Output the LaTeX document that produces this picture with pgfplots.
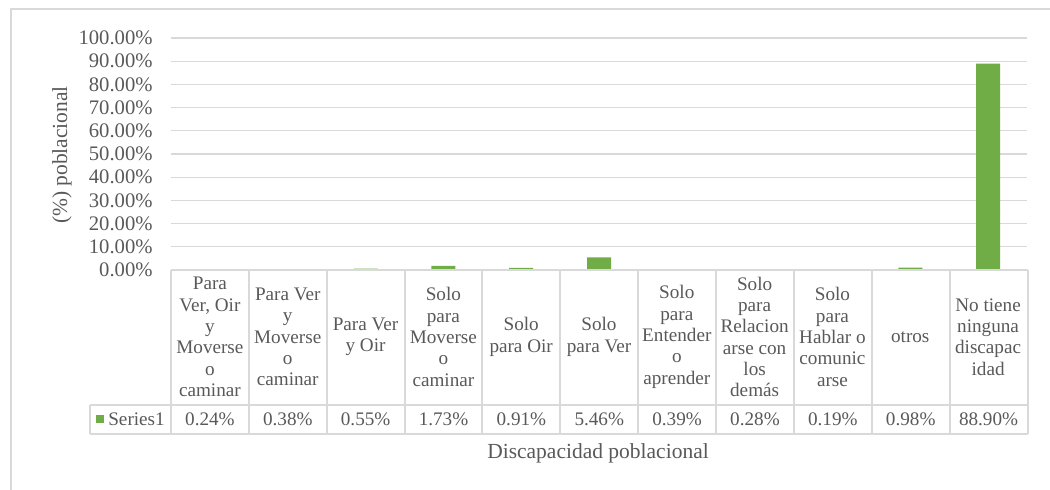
\documentclass[border=0pt]{standalone}
\usepackage{pgfplots}
\pgfplotsset{compat=1.18}
\usepackage{fontspec}
\setmainfont{Liberation Serif}
\definecolor{bargreen}{HTML}{70AD47}
\definecolor{txt}{HTML}{595959}
\definecolor{gridc}{HTML}{D9D9D9}
\begin{document}
\fontsize{11.5}{12.8}\selectfont
\begin{tikzpicture}
\begin{scope}[x=0.6pt,y=-0.6pt]
\useasboundingbox (0,0) rectangle (1050,490);
\draw[gridc, line width=0.9pt] (11,490) -- (11,9) -- (1050,9);
\end{scope}
\begin{axis}[
  at={(102.6pt,-162pt)}, anchor=south west,
  scale only axis, width=513.6pt, height=139.2pt,
  xmin=-0.5, xmax=10.5, ymin=0, ymax=100,
  ybar, bar width=14.4pt,
  axis line style={draw=none},
  major tick length=0pt,
  ytick={0,10,...,100},
  ymajorgrids, grid style={gridc, line width=0.8pt},
  yticklabel={\pgfmathprintnumber[fixed,fixed zerofill,precision=2]{\tick}\%},
  /pgf/number format/assume math mode=true,
  yticklabel style={font=\fontsize{12.4}{13}\selectfont, text=txt, anchor=east, xshift=-7pt},
  xtick=data,
  xticklabels={{Para\\Ver, Oir\\y\\Moverse\\o\\caminar},
               {Para Ver\\y\\Moverse\\o\\caminar},
               {Para Ver\\y Oir},
               {Solo\\para\\Moverse\\o\\caminar},
               {Solo\\para Oir},
               {Solo\\para Ver},
               {Solo\\para\\Entender\\o\\aprender},
               {Solo\\para\\Relacion\\arse con\\los\\demás},
               {Solo\\para\\Hablar o\\comunic\\arse},
               {otros},
               {No tiene\\ninguna\\discapac\\idad}},
  xticklabel style={font=\fontsize{11.5}{12.8}\selectfont, text=txt, align=center, anchor=center, yshift=-40.2pt, inner sep=0pt},
  clip=false,
]
\addplot[fill=bargreen, draw=none] coordinates {
(0,0.24) (1,0.38) (2,0.55) (3,1.73) (4,0.91) (5,5.46) (6,0.39) (7,0.28) (8,0.19) (9,0.98) (10,88.90)};
\end{axis}
\begin{scope}[x=0.6pt,y=-0.6pt]
\draw[gridc, line width=1.2pt] (171,270) -- (1027.5,270);
\foreach \i in {0,...,11} {
  \draw[gridc, line width=1.2pt] ({171+\i*77.863},270) -- ({171+\i*77.863},434);
}
\draw[gridc, line width=1.2pt] (90,405) -- (1027.5,405);
\draw[gridc, line width=1.2pt] (90,434) -- (1027.5,434);
\draw[gridc, line width=1.2pt] (90,405) -- (90,434);
\fill[bargreen] (96,415) rectangle (104,423);
\node[anchor=west, text=txt, inner sep=0pt] at (108,419.5) {Series1};
\foreach \v [count=\i from 0] in {0.24\%,0.38\%,0.55\%,1.73\%,0.91\%,5.46\%,0.39\%,0.28\%,0.19\%,0.98\%,88.90\%} {
  \node[text=txt, inner sep=0pt] at ({171+(\i+0.5)*77.863},419.5) {\v};
}
\node[text=txt, font=\fontsize{12.9}{14}\selectfont] at (598,453) {Discapacidad poblacional};
\node[text=txt, rotate=90, font=\fontsize{12.9}{14}\selectfont] at (62,155) {(\%) poblacional};
\end{scope}
\end{tikzpicture}
\end{document}
